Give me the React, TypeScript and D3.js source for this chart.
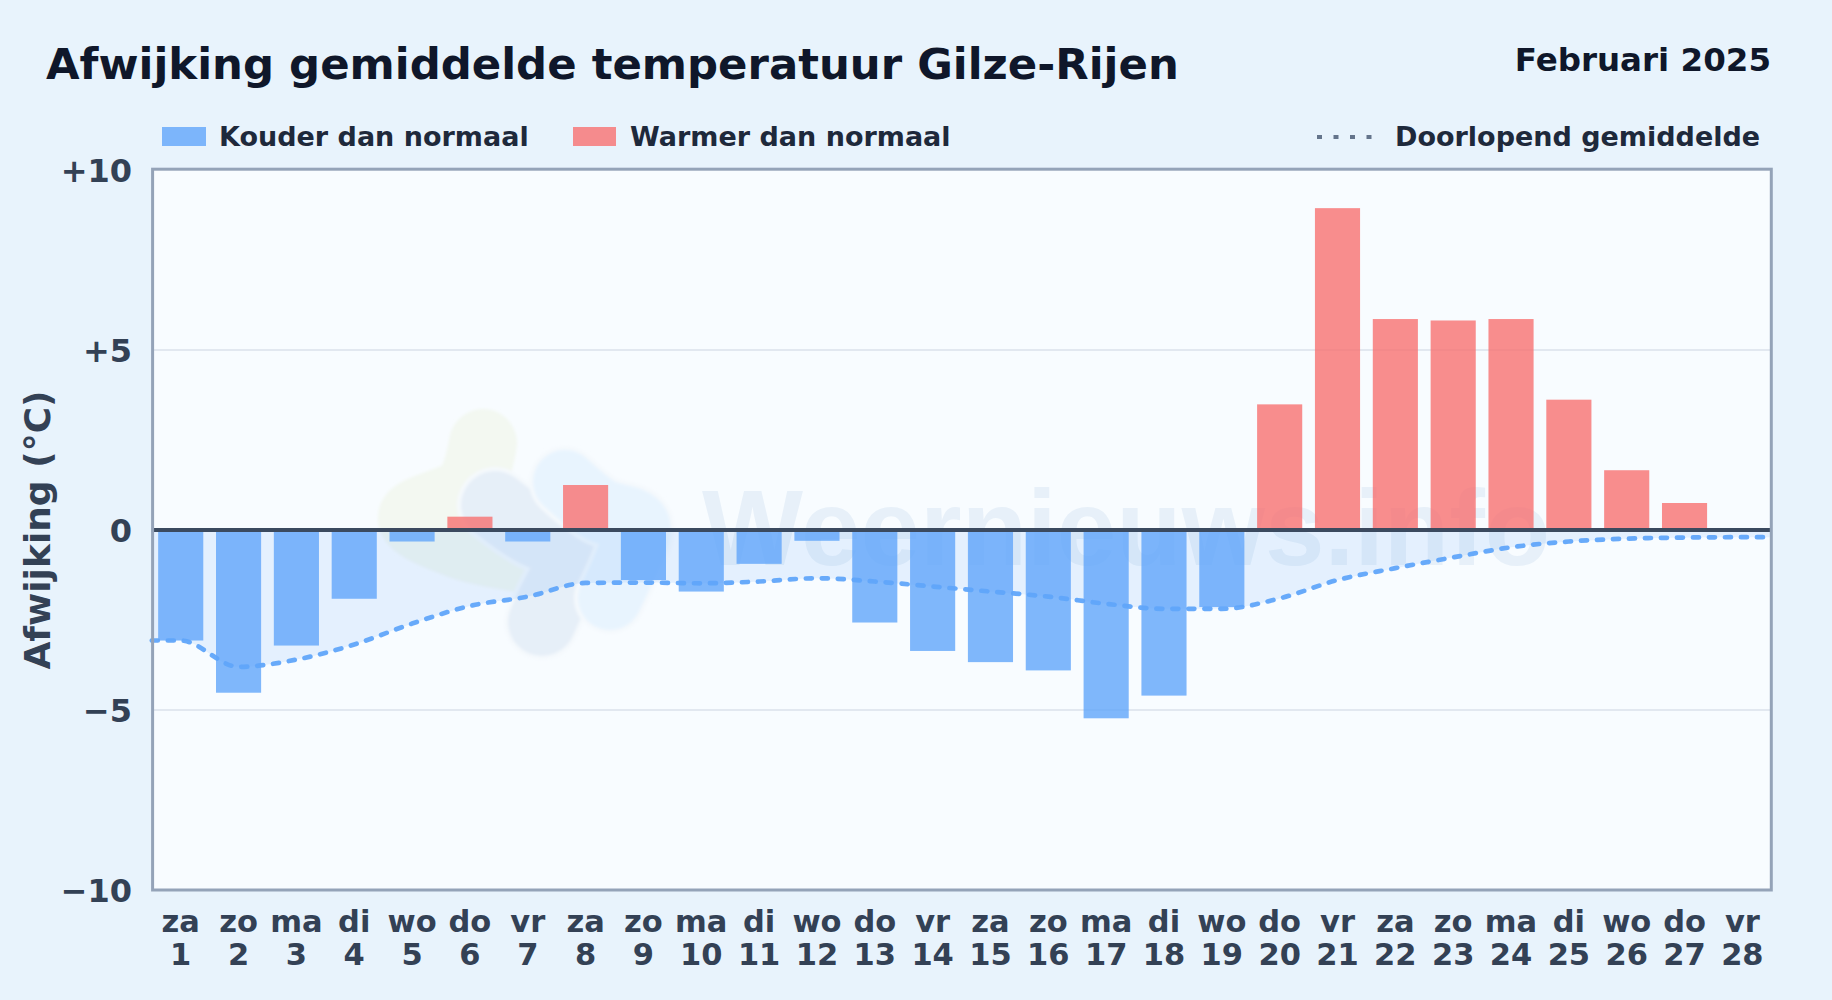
import React from 'react';
import * as d3 from 'd3';

const WIDTH = 1832;
const HEIGHT = 1000;

const weekdays = ['za', 'zo', 'ma', 'di', 'wo', 'do', 'vr', 'za', 'zo', 'ma', 'di', 'wo', 'do', 'vr', 'za', 'zo', 'ma', 'di', 'wo', 'do', 'vr', 'za', 'zo', 'ma', 'di', 'wo', 'do', 'vr'];
const days = [1, 2, 3, 4, 5, 6, 7, 8, 9, 10, 11, 12, 13, 14, 15, 16, 17, 18, 19, 20, 21, 22, 23, 24, 25, 26, 27, 28];
const anomaly = [-3.07, -4.52, -3.21, -1.91, -0.32, 0.37, -0.32, 1.25, -1.39, -1.71, -0.94, -0.3, -2.57, -3.36, -3.67, -3.9, -5.23, -4.6, -2.14, 3.49, 8.94, 5.86, 5.82, 5.86, 3.62, 1.66, 0.75, 0];
const runningMean = [-3.07, -3.8, -3.6, -3.18, -2.6, -2.11, -1.85, -1.47, -1.46, -1.48, -1.43, -1.34, -1.43, -1.57, -1.71, -1.85, -2.05, -2.19, -2.19, -1.9, -1.39, -1.06, -0.76, -0.48, -0.32, -0.24, -0.21, -0.2];
const yTicks = [10, 5, 0, -5, -10];
const yTickLabels = ['+10', '+5', '0', '\u22125', '\u221210'];

// watermark logo, three blobs
const logoGreen: [number, number][] = [[483, 443], [468, 488], [412, 518], [460, 545], [520, 558]];
const logoGrey: [number, number][] = [[495, 505], [540, 535], [590, 545], [560, 585], [542, 622]];
const logoLight: [number, number][] = [[565, 482], [600, 510], [638, 525], [625, 565], [610, 598]];

const left = 151.8;
const right = 1771.3;
const top = 170;
const bottom = 890;

const font = '"DejaVu Sans", sans-serif';

export default function App() {
  const x = d3.scaleBand<number>().domain(days).range([left, right]).paddingInner(0.22).paddingOuter(0.11);
  const xDay = d3.scaleLinear().domain([0.5, 28.5]).range([left, right]);
  const y = d3.scaleLinear().domain([-10, 10]).range([bottom, top]);

  // running mean runs on to both plot edges
  const meanPoints: [number, number][] = [
    [0.5, runningMean[0]],
    ...days.map((d, i) => [d, runningMean[i]] as [number, number]),
    [28.5, runningMean[runningMean.length - 1]],
  ];

  const meanLine = d3.line<[number, number]>()
    .x(d => xDay(d[0]))
    .y(d => y(d[1]))
    .curve(d3.curveMonotoneX);

  const meanArea = d3.area<[number, number]>()
    .x(d => xDay(d[0]))
    .y0(y(0))
    .y1(d => y(d[1]))
    .curve(d3.curveMonotoneX);

  const blob = d3.line().curve(d3.curveCatmullRom);

  return (
    <svg width={WIDTH} height={HEIGHT} viewBox={`0 0 ${WIDTH} ${HEIGHT}`} style={{ position: 'absolute', left: 0, top: 0, display: 'block' }} fontFamily={font} fontWeight="bold">
      <defs>
        <filter id="soft" filterUnits="userSpaceOnUse" x={300} y={350} width={500} height={350}>
          <feGaussianBlur stdDeviation="1.5" />
        </filter>
      </defs>
      <rect width={WIDTH} height={HEIGHT} fill="#e8f3fc" />

      <text x={46} y={79} fontSize={43.4} fill="#0f172a">Afwijking gemiddelde temperatuur Gilze-Rijen</text>
      <text x={1771} y={71} fontSize={32.5} fill="#0f172a" textAnchor="end">Februari 2025</text>

      {/* legend */}
      <rect x={162} y={127} width={44} height={19} fill="#60a5fa" opacity={0.8} />
      <text x={219} y={146} fontSize={27} fill="#1e293b">Kouder dan normaal</text>
      <rect x={573} y={127} width={43} height={19} fill="#f87171" opacity={0.8} />
      <text x={630} y={146} fontSize={27} fill="#1e293b">Warmer dan normaal</text>
      <line x1={1317} x2={1374} y1={137} y2={137} stroke="#64748b" strokeWidth={4} strokeDasharray="5 11.5" />
      <text x={1395} y={146} fontSize={27} fill="#1e293b">Doorlopend gemiddelde</text>

      {/* plot */}
      <rect x={left} y={top} width={right - left} height={bottom - top} fill="#f8fcff" />

      <g fill="none" strokeLinecap="round" strokeLinejoin="round" filter="url(#soft)">
        <path d={blob(logoGreen) || ''} stroke="#f3f8f1" strokeWidth={68} />
        <path d={blob(logoGrey) || ''} stroke="#f5f9fd" strokeWidth={76} />
        <path d={blob(logoGrey) || ''} stroke="#e6eff8" strokeWidth={68} />
        <path d={blob(logoLight) || ''} stroke="#f5f9fd" strokeWidth={72} />
        <path d={blob(logoLight) || ''} stroke="#e8f4fe" strokeWidth={64} />
      </g>
      <text x={702} y={565} fontFamily='"Liberation Sans", sans-serif' fontSize={107} fill="#e7f0f9">Weernieuws.info</text>

      {yTicks.filter(t => t === 5 || t === -5).map(t => (
        <line key={t} x1={left} x2={right} y1={y(t)} y2={y(t)} stroke="#e2e8f0" strokeWidth={2} />
      ))}

      <path d={meanArea(meanPoints) || ''} fill="#60a5fa" opacity={0.13} />

      {anomaly.map((v, i) => (
        <rect
          key={days[i]}
          x={x(days[i])}
          y={y(Math.max(v, 0))}
          width={x.bandwidth()}
          height={Math.abs(y(v) - y(0))}
          fill={v < 0 ? '#60a5fa' : '#f87171'}
          opacity={0.8}
        />
      ))}

      <path d={meanLine(meanPoints) || ''} fill="none" stroke="#60a5fa" strokeWidth={4.7} strokeLinecap="round" strokeDasharray="6 10" opacity={0.95} />

      <line x1={left} x2={right} y1={y(0)} y2={y(0)} stroke="#3b4a5f" strokeWidth={4} />
      <rect x={left + 0.8} y={top - 0.8} width={right - left - 0.8} height={bottom - top + 0.8} fill="none" stroke="#94a3b8" strokeWidth={3} />

      {/* axes */}
      {yTicks.map((t, i) => (
        <text key={t} x={132} y={y(t) + 11.5} fontSize={32} fill="#334155" textAnchor="end">{yTickLabels[i]}</text>
      ))}
      {days.map((d, i) => (
        <g key={d} fontSize={30.5} fill="#334155" textAnchor="middle">
          <text x={xDay(d)} y={931.5}>{weekdays[i]}</text>
          <text x={xDay(d)} y={965}>{d}</text>
        </g>
      ))}
      <text transform={`translate(50,${y(0)}) rotate(-90)`} fontSize={36} fill="#334155" textAnchor="middle">Afwijking (°C)</text>
    </svg>
  );
}
